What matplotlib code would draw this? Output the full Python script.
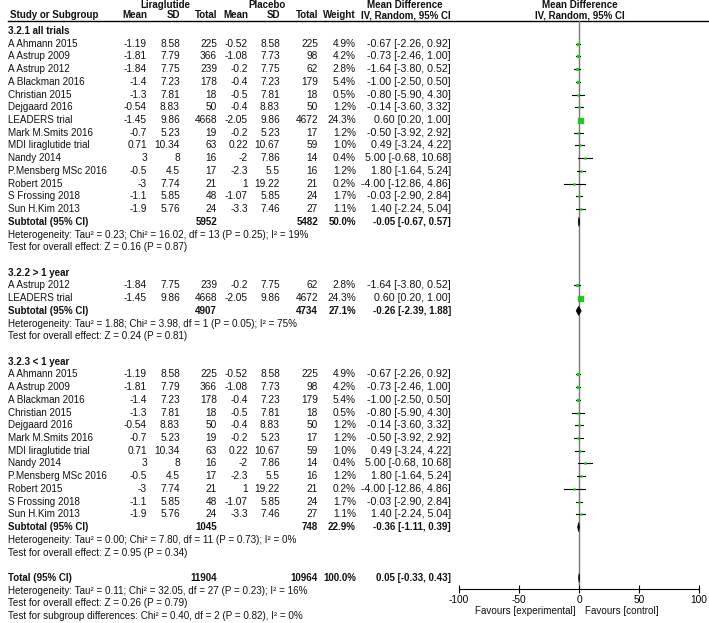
import matplotlib
matplotlib.use('Agg')
from matplotlib import pyplot as plt

plt.rcParams['font.family'] = ['Liberation Sans', 'DejaVu Sans']

# studies in the order of subgroup 3.2.1 (all trials)
studies = ["A Ahmann 2015", "A Astrup 2009", "A Astrup 2012", "A Blackman 2016",
           "Christian 2015", "Dejgaard 2016", "LEADERS trial", "Mark M.Smits 2016",
           "MDI liraglutide trial", "Nandy 2014", "P.Mensberg MSc 2016",
           "Robert 2015", "S Frossing 2018", "Sun H.Kim 2013"]
lira_mean = [-1.19, -1.81, -1.84, -1.4, -1.3, -0.54, -1.45, -0.7, 0.71, 3, -0.5, -3, -1.1, -1.9]
lira_sd = [8.58, 7.79, 7.75, 7.23, 7.81, 8.83, 9.86, 5.23, 10.34, 8, 4.5, 7.74, 5.85, 5.76]
lira_n = [225, 366, 239, 178, 18, 50, 4668, 19, 63, 16, 17, 21, 48, 24]
plac_mean = [-0.52, -1.08, -0.2, -0.4, -0.5, -0.4, -2.05, -0.2, 0.22, -2, -2.3, 1, -1.07, -3.3]
plac_sd = [8.58, 7.73, 7.75, 7.23, 7.81, 8.83, 9.86, 5.23, 10.67, 7.86, 5.5, 19.22, 5.85, 7.46]
plac_n = [225, 98, 62, 179, 18, 50, 4672, 17, 59, 14, 16, 21, 24, 27]
weight = [4.9, 4.2, 2.8, 5.4, 0.5, 1.2, 24.3, 1.2, 1.0, 0.4, 1.2, 0.2, 1.7, 1.1]
md = [-0.67, -0.73, -1.64, -1.00, -0.80, -0.14, 0.60, -0.50, 0.49, 5.00, 1.80, -4.00, -0.03, 1.40]
md_lo = [-2.26, -2.46, -3.80, -2.50, -5.90, -3.60, 0.20, -3.92, -3.24, -0.68, -1.64, -12.86, -2.90, -2.24]
md_hi = [0.92, 1.00, 0.52, 0.50, 4.30, 3.32, 1.00, 2.92, 4.22, 10.68, 5.24, 4.86, 2.84, 5.04]

# subgroups (indices into the lists above)
sub_names = ["3.2.1 all trials", "3.2.2 > 1 year", "3.2.3 < 1 year"]
sub_members = [list(range(14)), [2, 6], [0, 1, 3, 4, 5, 7, 8, 9, 10, 11, 12, 13]]
sub_lira_n = [5952, 4907, 1045]
sub_plac_n = [5482, 4734, 748]
sub_weight = [50.0, 27.1, 22.9]
sub_md = [-0.05, -0.26, -0.36]
sub_lo = [-0.67, -2.39, -1.11]
sub_hi = [0.57, 1.88, 0.39]
sub_het = ["Heterogeneity: Tau\u00b2 = 0.23; Chi\u00b2 = 16.02, df = 13 (P = 0.25); I\u00b2 = 19%",
           "Heterogeneity: Tau\u00b2 = 1.88; Chi\u00b2 = 3.98, df = 1 (P = 0.05); I\u00b2 = 75%",
           "Heterogeneity: Tau\u00b2 = 0.00; Chi\u00b2 = 7.80, df = 11 (P = 0.73); I\u00b2 = 0%"]
sub_test = ["Test for overall effect: Z = 0.16 (P = 0.87)",
            "Test for overall effect: Z = 0.24 (P = 0.81)",
            "Test for overall effect: Z = 0.95 (P = 0.34)"]

tot_lira_n, tot_plac_n, tot_weight = 11904, 10964, 100.0
tot_md, tot_lo, tot_hi = 0.05, -0.33, 0.43
tot_lines = ["Heterogeneity: Tau\u00b2 = 0.11; Chi\u00b2 = 32.05, df = 27 (P = 0.23); I\u00b2 = 16%",
             "Test for overall effect: Z = 0.26 (P = 0.79)",
             "Test for subgroup differences: Chi\u00b2 = 0.40, df = 2 (P = 0.82), I\u00b2 = 0%"]

ticks = [-100, -50, 0, 50, 100]

W, H = 709, 623
FS = 7.1     # regular text
FN = 7.3     # number columns
FC = 7.7     # CI column (wider spacing in the original)
FB = 7.0     # bold text
green = '#1ec81e'

fig = plt.figure(figsize=(W / 100, H / 100), dpi=100)
tx = fig.add_axes([0, 0, 1, 1])
tx.set_xlim(0, W)
tx.set_ylim(H, 0)
tx.axis('off')

top_y, axis_y = 21, 589
fp = fig.add_axes([459 / W, 1 - axis_y / H, 240 / W, (axis_y - top_y) / H])
fp.patch.set_alpha(0)
fp.set_xlim(-100, 100)
fp.set_ylim(axis_y, top_y)
for s in ['top', 'left', 'right']:
    fp.spines[s].set_visible(False)
fp.spines['bottom'].set_linewidth(0.8)
fp.set_yticks([])
fp.set_xticks(ticks)
fp.set_xticklabels([str(t) for t in ticks], fontsize=FN)
fp.tick_params(axis='x', direction='inout', length=6, width=0.8, pad=1)
fp.axvline(0, color='#777777', lw=1.0, zorder=1)

# column right edges
cols = [147, 180, 217, 248, 280, 318, 356, 451]


def put(x, y, s, ha='right', bold=False, size=FS):
    tx.text(x, y, s, ha=ha, va='center', fontsize=FB if bold else size,
            fontweight='bold' if bold else 'normal', color='#111111')


def put_cols(y, vals, bold=False):
    for k, (x, s) in enumerate(zip(cols, vals)):
        if s:
            put(x, y, s, bold=bold, size=FC if k == 7 else FN)


# header
put(165, 4.5, "Liraglutide", ha='center', bold=True)
put(267, 4.5, "Placebo", ha='center', bold=True)
put(405, 4.5, "Mean Difference", ha='center', bold=True)
put(580, 4.5, "Mean Difference", ha='center', bold=True)
put(10, 15.5, "Study or Subgroup", ha='left', bold=True)
for x, s in zip(cols, ["Mean", "SD", "Total", "Mean", "SD", "Total", "Weight",
                       "IV, Random, 95% CI"]):
    put(x, 15.5, s, bold=True)
put(580, 15.5, "IV, Random, 95% CI", ha='center', bold=True)
tx.plot([8, W], [top_y, top_y], color='k', lw=1.0)

y0, dy = 31, 12.72
row = 0


def ry(r):
    return y0 + dy * r


for g in range(3):
    put(8, ry(row), sub_names[g], ha='left', bold=True)
    row += 1
    for i in sub_members[g]:
        y = ry(row)
        put(8, y, studies[i], ha='left')
        put_cols(y, [format(lira_mean[i], 'g'), format(lira_sd[i], 'g'), str(lira_n[i]),
                     format(plac_mean[i], 'g'), format(plac_sd[i], 'g'), str(plac_n[i]),
                     '%.1f%%' % weight[i],
                     '%.2f [%.2f, %.2f]' % (md[i], md_lo[i], md_hi[i])])
        fp.plot([md_lo[i], md_hi[i]], [y, y], color='k', lw=0.8, zorder=2)
        fp.plot(md[i], y, 's', color=green, mec=green,
                ms=max(0.9, 3.6 * (weight[i] / 24.3) ** 0.5), zorder=3)
        row += 1
    y = ry(row)
    put(8, y, "Subtotal (95% CI)", ha='left', bold=True)
    put_cols(y, ['', '', str(sub_lira_n[g]), '', '', str(sub_plac_n[g]),
                 '%.1f%%' % sub_weight[g],
                 '%.2f [%.2f, %.2f]' % (sub_md[g], sub_lo[g], sub_hi[g])], bold=True)
    fp.fill([sub_lo[g], sub_md[g], sub_hi[g], sub_md[g]], [y, y - 4.5, y, y + 4.5],
            color='k', lw=0.5, zorder=3)
    row += 1
    put(8, ry(row), sub_het[g], ha='left')
    row += 1
    put(8, ry(row), sub_test[g], ha='left')
    row += 2

y = ry(row)
put(8, y, "Total (95% CI)", ha='left', bold=True)
put_cols(y, ['', '', str(tot_lira_n), '', '', str(tot_plac_n), '%.1f%%' % tot_weight,
             '%.2f [%.2f, %.2f]' % (tot_md, tot_lo, tot_hi)], bold=True)
fp.fill([tot_lo, tot_md, tot_hi, tot_md], [y, y - 4.5, y, y + 4.5], color='k', lw=0.5, zorder=3)
for s in tot_lines:
    row += 1
    put(8, ry(row), s, ha='left')

put(576, 611, "Favours [experimental]")
put(585, 611, "Favours [control]", ha='left')

fig.savefig('out.png', dpi=100)
